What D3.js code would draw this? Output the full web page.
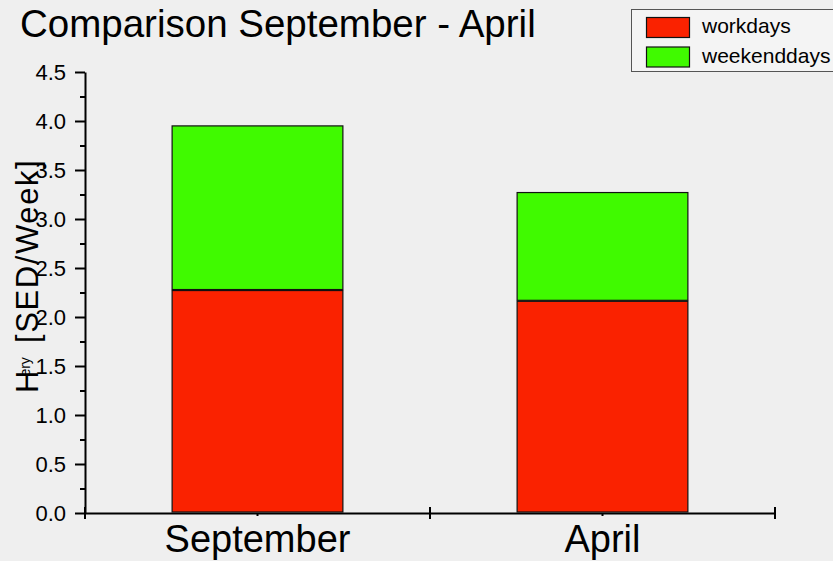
<!DOCTYPE html>
<meta charset="utf-8">
<head>
<title>Comparison September - April</title>
<style>
body {
    margin: 0;
    background-color: #efefef;
}
text {
    font-family: 'Liberation Sans', Arial, sans-serif;
    fill: #000;
}
.axis path, .axis line {
    stroke: #000;
    stroke-width: 2px;
}
</style>
</head>
<body>
<script src="https://cdn.jsdelivr.net/npm/d3@7"></script>
<script>

var categories = ["September", "April"];
var workdays = [2.27, 2.16];
var weekenddays = [1.68, 1.11];
var seriesNames = ["workdays", "weekenddays"];
var seriesColors = ["#fa2200", "#40fa00"];
var yMajorTicks = [0, 0.5, 1.0, 1.5, 2.0, 2.5, 3.0, 3.5, 4.0, 4.5];
var yMinorTicks = [0.25, 0.75, 1.25, 1.75, 2.25, 2.75, 3.25, 3.75, 4.25];

var width = 833,
    height = 561;

var svg = d3.select("body").append("svg")
    .attr("width", width)
    .attr("height", height);

var x = d3.scaleBand().domain(categories).range([85, 775]).padding(0);
var y = d3.scaleLinear().domain([0, 4.5]).range([513, 72]);

// stacked data
var stack = d3.stack().keys(seriesNames);
var rows = categories.map(function(c, i) {
    return {cat: c, workdays: workdays[i], weekenddays: weekenddays[i]};
});
var layers = stack(rows);

var barW = x.bandwidth() * 0.495;

svg.append("g").selectAll("g")
    .data(layers)
    .enter().append("g")
    .attr("fill", function(d, i) { return seriesColors[i]; })
    .selectAll("rect")
    .data(function(d) { return d; })
    .enter().append("rect")
    .attr("x", function(d) { return x(d.data.cat) + x.bandwidth() / 2 - barW / 2; })
    .attr("width", barW)
    .attr("y", function(d) { return y(d[1]); })
    .attr("height", function(d) { return y(d[0]) - y(d[1]) - 1; })
    .attr("stroke", "#111")
    .attr("stroke-width", 1.2);

// y axis
var yAxis = svg.append("g")
    .attr("class", "axis")
    .attr("transform", "translate(85,0)")
    .call(d3.axisLeft(y).tickValues(yMajorTicks).tickSize(10).tickSizeOuter(0).tickPadding(9)
        .tickFormat(d3.format(".1f")));
yAxis.selectAll("text")
    .attr("font-size", 22)
    .attr("font-family", "'Liberation Sans', Arial, sans-serif")
    .attr("fill", "#000");

svg.append("g")
    .attr("class", "axis")
    .attr("transform", "translate(85,0)")
    .call(d3.axisLeft(y).tickValues(yMinorTicks).tickSize(5).tickFormat(""))
    .select(".domain").remove();

// x axis
var xAxis = svg.append("g")
    .attr("class", "axis")
    .attr("transform", "translate(0,513)")
    .call(d3.axisBottom(x).tickSize(3).tickSizeOuter(0).tickPadding(0));
xAxis.selectAll("text")
    .attr("y", 39)
    .attr("dy", 0)
    .attr("font-size", 38)
    .attr("font-family", "'Liberation Sans', Arial, sans-serif")
    .attr("fill", "#000");
xAxis.selectAll(".tick line").attr("stroke-width", 1.5);

var bounds = categories.map(function(c) { return x(c); }).concat([x.range()[1]]);
svg.append("g")
    .attr("class", "axis")
    .selectAll("line")
    .data(bounds)
    .enter().append("line")
    .attr("x1", function(d) { return d; })
    .attr("x2", function(d) { return d; })
    .attr("y1", y(0) - 6)
    .attr("y2", y(0) + 6);

// title
svg.append("text")
    .attr("x", 20)
    .attr("y", 37)
    .attr("font-size", 38.5)
    .text("Comparison September - April");

// y label
var yl = svg.append("text")
    .attr("transform", "translate(38,393) rotate(-90)")
    .attr("font-size", 31);
yl.append("tspan").text("H");
yl.append("tspan").attr("font-size", 14).attr("dx", -6).attr("dy", -8).text("ery");
yl.append("tspan").attr("dy", 8).attr("dx", 4).attr("letter-spacing", 1.6).text(" [SED/Week]");

// legend
var legend = svg.append("g");
legend.append("rect")
    .attr("x", 631.5)
    .attr("y", 9.5)
    .attr("width", 230)
    .attr("height", 62)
    .attr("fill", "#f4f4f4")
    .attr("stroke", "#555")
    .attr("stroke-width", 1);
var items = legend.selectAll("g.item")
    .data(seriesNames)
    .enter().append("g")
    .attr("class", "item")
    .attr("transform", function(d, i) { return "translate(0," + (i * 29.5) + ")"; });
items.append("rect")
    .attr("x", 646.5)
    .attr("y", 17.5)
    .attr("width", 43)
    .attr("height", 20)
    .attr("fill", function(d, i) { return seriesColors[i]; })
    .attr("stroke", "#111")
    .attr("stroke-width", 1.2);
items.append("text")
    .attr("x", 702)
    .attr("y", 33)
    .attr("font-size", 21)
    .text(function(d) { return d; });

</script>
</body>
